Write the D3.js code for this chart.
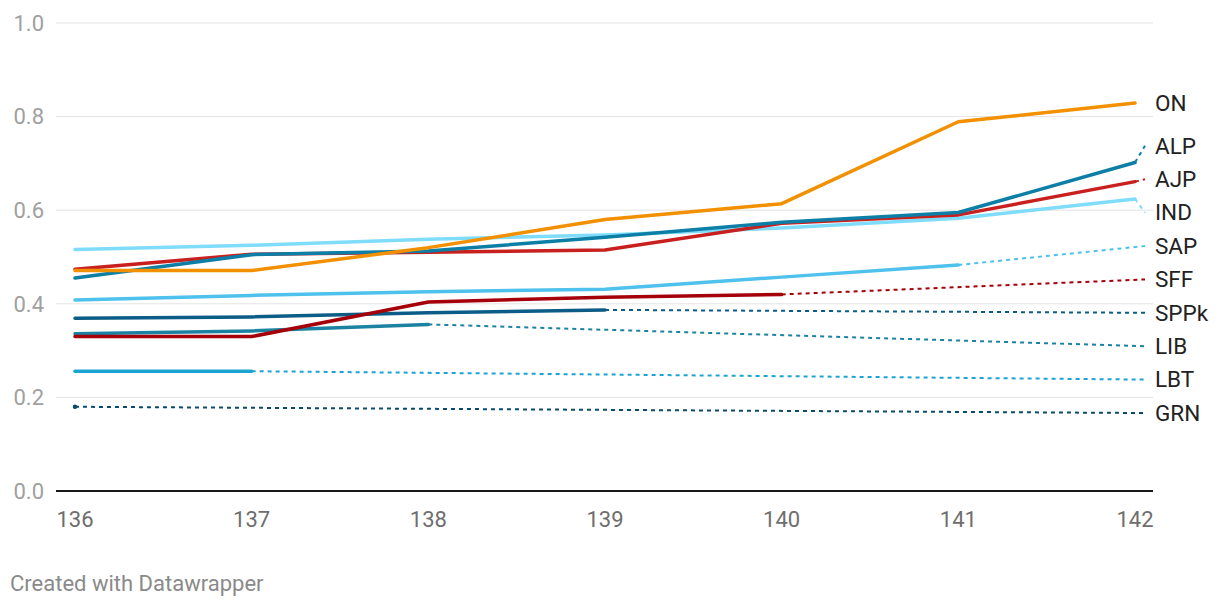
<!DOCTYPE html>
<html>
<head>
<meta charset="utf-8">
<script src="https://cdn.jsdelivr.net/npm/d3@7"></script>
<style>
  body { margin: 0; background: #fff; font-family: Roboto, "Noto Sans", sans-serif; }
  .tick-y { fill: #a0a0a0; font-size: 22px; }
  .tick-x { fill: #6e6e6e; font-size: 22px; }
  .label { fill: #222; font-size: 22.5px; }
  .credit { fill: #8a8a8a; font-size: 22px; }
</style>
</head>
<body>
<div id="chart"></div>
<script>
// data
var years = [136, 137, 138, 139, 140, 141, 142];
var yTicks = [0, 0.2, 0.4, 0.6, 0.8, 1.0];

var ON   = [0.471, 0.471, 0.520, 0.580, 0.614, 0.789, 0.829];
var ALP  = [0.455, 0.505, 0.513, 0.542, 0.574, 0.595, 0.702];
var AJP  = [0.474, 0.506, 0.510, 0.515, 0.572, 0.590, 0.661];
var IND  = [0.516, 0.525, 0.538, 0.547, 0.562, 0.583, 0.624];
var SAP  = [0.408, 0.418, 0.426, 0.431, 0.457, 0.483, null];
var SFF  = [0.330, 0.330, 0.404, 0.414, 0.420, null, null];
var SPPk = [0.369, 0.372, 0.381, 0.387, null, null, null];
var LIB  = [0.336, 0.342, 0.356, null, null, null, null];
var LBT  = [0.256, 0.256, null, null, null, null, null];
var GRN  = [0.180, null, null, null, null, null, null];

var seriesNames = ["ON", "ALP", "AJP", "IND", "SAP", "SFF", "SPPk", "LIB", "LBT", "GRN"];
var seriesValues = [ON, ALP, AJP, IND, SAP, SFF, SPPk, LIB, LBT, GRN];
var seriesColors = ["#f39000", "#0d7ea6", "#c8201f", "#7fdcfb", "#4ec1ec",
                    "#a5000a", "#0b5d87", "#1c82a2", "#1ba4d1", "#0b4a6f"];

var svgWidth = 1220;
var svgHeight = 608;

var svg = d3.select("#chart")
  .append("svg")
  .attr("width", svgWidth)
  .attr("height", svgHeight);

var x = d3.scaleLinear().domain([136, 142]).range([75, 1135]);
var y = d3.scaleLinear().domain([0, 1]).range([491, 23]);
var gridLeft = 56, gridRight = 1153;

// gridlines + y labels
svg.append("g").selectAll("line")
  .data(yTicks.filter(d => d > 0))
  .enter().append("line")
  .attr("x1", gridLeft).attr("x2", gridRight)
  .attr("y1", d => y(d)).attr("y2", d => y(d))
  .attr("stroke", "#e3e3e3").attr("stroke-width", 1);

svg.append("g").selectAll("text")
  .data(yTicks)
  .enter().append("text")
  .attr("class", "tick-y")
  .attr("x", 44).attr("y", d => y(d))
  .attr("dy", "0.35em")
  .attr("text-anchor", "end")
  .text(d => d.toFixed(1));

// baseline
svg.append("line")
  .attr("x1", gridLeft).attr("x2", gridRight)
  .attr("y1", y(0)).attr("y2", y(0))
  .attr("stroke", "#1a1a1a").attr("stroke-width", 2);

// x labels
svg.append("g").selectAll("text")
  .data(years)
  .enter().append("text")
  .attr("class", "tick-x")
  .attr("x", d => x(d)).attr("y", 527)
  .attr("text-anchor", "middle")
  .text(d => d);

// build series
var series = seriesNames.map(function (name, i) {
  var pts = years.map((yr, j) => ({ year: yr, value: seriesValues[i][j] }));
  var valid = pts.filter(p => p.value !== null);
  var last = valid[valid.length - 1];
  return { name: name, color: seriesColors[i], points: pts, last: last,
           endY: y(last.value) };
});

// spread labels so they do not overlap (cluster and centre)
var gap = 33.4;
var sorted = series.slice().sort((a, b) => a.endY - b.endY);
var clusters = sorted.map(s => ({ items: [s], mean: s.endY }));
function place(c) {
  var n = c.items.length;
  c.top = c.mean - (n - 1) * gap / 2;
  c.items.forEach((s, k) => { s.labelY = c.top + k * gap; });
}
clusters.forEach(place);
var merged = true;
while (merged) {
  merged = false;
  for (var i = 0; i < clusters.length - 1; i++) {
    var a = clusters[i], b = clusters[i + 1];
    var aBottom = a.top + (a.items.length - 1) * gap;
    if (b.top - aBottom < gap) {
      var items = a.items.concat(b.items);
      var c = { items: items, mean: d3.mean(items, s => s.endY) };
      place(c);
      clusters.splice(i, 2, c);
      merged = true;
      break;
    }
  }
}

var line = d3.line()
  .defined(d => d.value !== null)
  .x(d => x(d.year))
  .y(d => y(d.value));

var labelX = 1145;

// connectors from last point to label
svg.append("g").selectAll("line")
  .data(series.filter(s => Math.abs(s.labelY - s.endY) > 1 || s.last.year < 142))
  .enter().append("line")
  .attr("x1", d => x(d.last.year)).attr("y1", d => d.endY)
  .attr("x2", labelX).attr("y2", d => d.labelY)
  .attr("stroke", d => d.color)
  .attr("stroke-width", 2)
  .attr("stroke-dasharray", "4,4");

// single point markers
svg.append("g").selectAll("circle")
  .data(series.filter(s => s.points.filter(p => p.value !== null).length === 1))
  .enter().append("circle")
  .attr("cx", d => x(d.last.year)).attr("cy", d => d.endY)
  .attr("r", 2.2)
  .attr("fill", d => d.color);

svg.append("g").selectAll("path")
  .data(series.slice().reverse())
  .enter().append("path")
  .attr("d", d => line(d.points))
  .attr("fill", "none")
  .attr("stroke", d => d.color)
  .attr("stroke-width", 3.5)
  .attr("stroke-linejoin", "round")
  .attr("stroke-linecap", "round");

// labels
svg.append("g").selectAll("text")
  .data(series)
  .enter().append("text")
  .attr("class", "label")
  .attr("x", 1155).attr("y", d => d.labelY)
  .attr("dy", "0.35em")
  .text(d => d.name);

svg.append("text")
  .attr("class", "credit")
  .attr("x", 10).attr("y", 591)
  .text("Created with Datawrapper");
</script>
</body>
</html>
